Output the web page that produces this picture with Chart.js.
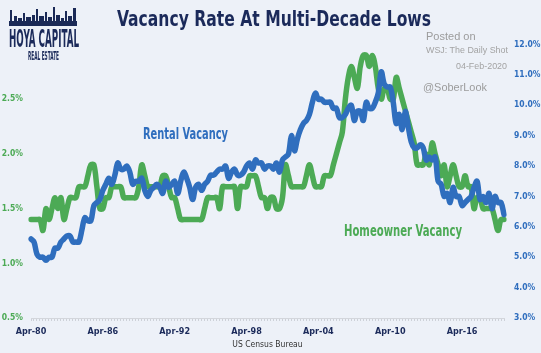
<!DOCTYPE html>
<html><head><meta charset="utf-8">
<script src="https://cdn.jsdelivr.net/npm/chart.js@4.4.1/dist/chart.umd.min.js"></script>
<style>
html,body{margin:0;padding:0;background:#edf1f8;}
#wrap{position:relative;width:541px;height:353px;overflow:hidden;background:#edf1f8;}
#c{position:absolute;left:0;top:0;}
.ov{position:absolute;white-space:nowrap;line-height:1;transform-origin:0 50%;}
</style></head><body>
<div id="wrap">
<canvas id="c" width="541" height="353"></canvas>
<svg style="position:absolute;left:9px;top:6px" width="68" height="20" viewBox="0 0 68 20">
  <g fill="#1b2a57">
    <rect x="0" y="15" width="68" height="5"/>
    <rect x="1" y="4" width="2" height="12"/>
    <rect x="5" y="10" width="3" height="6"/>
    <rect x="9" y="12" width="4" height="4"/>
    <rect x="14" y="7" width="2" height="9"/>
    <rect x="17" y="11" width="5" height="5"/>
    <rect x="23" y="9" width="3" height="7"/>
    <rect x="27" y="3" width="2" height="13"/>
    <rect x="30" y="10" width="5" height="6"/>
    <rect x="36" y="6" width="2" height="10"/>
    <rect x="39" y="11" width="4" height="5"/>
    <rect x="44" y="1" width="2" height="15"/>
    <rect x="47" y="9" width="4" height="7"/>
    <rect x="52" y="12" width="3" height="4"/>
    <rect x="56" y="5" width="2" height="11"/>
    <rect x="59" y="10" width="4" height="6"/>
    <rect x="64" y="2" width="3" height="14"/>
  </g>
</svg>
</div>
<script>
// ---- data ----
const xTickLabels = ['Apr-80','Apr-86','Apr-92','Apr-98','Apr-04','Apr-10','Apr-16'];
const rentalVacancy = [
 5.6,5.5,5.1,5.0,5.0,4.9,5.0,5.0,5.3,5.3,5.5,5.6,5.7,5.7,5.5,5.5,5.5,5.9,6.3,6.2,
 6.2,6.7,6.8,6.9,7.2,7.4,7.6,7.4,7.7,8.1,7.9,7.9,8.0,7.8,7.4,7.5,7.5,7.6,7.2,7.0,
 7.2,7.3,7.4,7.3,7.1,7.5,7.3,7.4,7.5,7.1,7.5,7.8,7.6,7.3,6.9,7.3,7.4,7.2,7.4,7.5,
 7.7,7.7,7.8,7.9,7.9,8.0,7.6,7.8,7.9,7.7,7.7,7.8,8.0,8.1,7.9,8.2,8.1,8.1,7.9,8.0,
 8.0,7.9,8.1,7.8,8.2,8.3,8.4,9.0,8.5,8.9,9.2,9.4,9.5,9.7,10.1,10.4,10.2,10.2,10.1,10.1,
 10.1,9.9,9.9,9.6,9.6,9.7,9.9,10.0,9.5,9.8,9.8,9.5,10.1,9.9,9.9,10.1,10.4,11.1,10.7,10.6,
 10.6,10.1,9.4,9.7,9.2,9.8,9.3,8.8,8.6,8.6,8.7,8.6,8.2,8.3,8.2,8.3,7.5,7.4,7.0,7.1,
 6.8,7.3,7.0,7.0,6.7,6.8,6.9,7.0,7.3,7.5,6.9,7.0,6.8,7.1,6.6,7.0,6.8,6.8,6.4
];
const homeownerVacancy = [
 1.4,1.4,1.4,1.4,1.3,1.5,1.4,1.5,1.6,1.5,1.6,1.4,1.5,1.6,1.6,1.6,1.7,1.7,1.7,1.8,
 1.9,1.9,1.7,1.5,1.5,1.6,1.6,1.7,1.7,1.7,1.7,1.6,1.6,1.6,1.6,1.6,1.7,1.9,1.8,1.7,
 1.7,1.7,1.7,1.7,1.8,1.8,1.7,1.6,1.6,1.5,1.4,1.4,1.4,1.4,1.4,1.4,1.4,1.4,1.5,1.6,
 1.6,1.6,1.6,1.5,1.7,1.7,1.7,1.7,1.7,1.5,1.7,1.7,1.7,1.8,1.8,1.8,1.7,1.6,1.6,1.5,
 1.6,1.6,1.5,1.5,1.6,1.9,1.8,1.7,1.7,1.7,1.7,1.7,1.8,1.9,1.8,1.7,1.7,1.7,1.8,1.8,
 1.8,1.9,2.0,2.1,2.2,2.5,2.7,2.8,2.7,2.6,2.8,2.9,2.9,2.8,2.9,2.8,2.6,2.5,2.6,2.6,
 2.5,2.5,2.7,2.6,2.5,2.4,2.3,2.2,2.1,1.9,1.9,1.9,2.0,1.9,2.1,2.0,1.9,1.8,1.9,1.7,
 1.8,1.9,1.8,1.7,1.7,1.8,1.7,1.7,1.5,1.6,1.6,1.5,1.5,1.5,1.5,1.4,1.3,1.4,1.4
];
const leftTicks = [0.5,1.0,1.5,2.0,2.5];
// quarterly categories starting Apr-1980
const months = ['Jan','Apr','Jul','Oct'];
const quarterLabels = rentalVacancy.map((_, i) => {
  const q = i + 1;
  const yr = 1980 + Math.floor(q / 4);
  return months[q % 4] + '-' + String(yr % 100).padStart(2, '0');
});

const BLUE = '#2f6ebe', GREEN = '#4caa55', NAVY = '#1b2a5a';
const NARROW = "'DejaVu Sans Condensed','Liberation Sans',Arial,sans-serif";
const SANS = "'Liberation Sans',Arial,sans-serif";

new Chart(document.getElementById('c'), {
  type: 'line',
  data: {
    labels: quarterLabels,
    datasets: [
      {label: 'Rental Vacancy', data: rentalVacancy, yAxisID: 'yRight', borderColor: BLUE,
       borderWidth: 5.5, pointRadius: 0, tension: 0.35, fill: false, borderCapStyle: 'round', borderJoinStyle: 'round'},
      {label: 'Homeowner Vacancy', data: homeownerVacancy, yAxisID: 'yLeft', borderColor: GREEN,
       borderWidth: 5.5, pointRadius: 0, tension: 0.35, fill: false, borderCapStyle: 'round', borderJoinStyle: 'round'}
    ]
  },
  options: {
    responsive: false, animation: false, devicePixelRatio: 1,
    layout: {padding: {left: 0, right: 0, top: 44.5, bottom: 3}},
    plugins: {legend: {display: false}, tooltip: {enabled: false}, title: {display: false}},
    scales: {
      x: {
        type: 'category',
        grid: {display: true, drawOnChartArea: false, drawTicks: true, tickLength: 3, color: '#cdd1d8', lineWidth: 1},
        border: {display: true, color: '#d3d6dc', width: 1},
        ticks: {autoSkip: false, maxRotation: 0, minRotation: 0, padding: 5, color: NAVY,
          font: {family: NARROW, size: 9, weight: 'bold'},
          callback: function(v) { const l = this.getLabelForValue(v); return xTickLabels.includes(l) ? l : ''; }},
        title: {display: true, text: 'US Census Bureau', color: '#333333',
          font: {family: NARROW, size: 8.5}, padding: {top: 0, bottom: 0}},
        afterFit: s => { s.height = 32; }
      },
      yLeft: {
        position: 'left', min: 0.5, max: 3.0,
        grid: {display: false, drawTicks: false}, border: {display: false},
        afterBuildTicks: s => { s.ticks = leftTicks.concat([3.0]).map(v => ({value: v})); },
        ticks: {padding: 8, color: GREEN, font: {family: NARROW, size: 8.5, weight: 'bold'},
          callback: v => leftTicks.includes(v) ? v.toFixed(1) + '%' : ''},
        afterFit: s => { s.width = 31; }
      },
      yRight: {
        position: 'right', min: 3, max: 12,
        grid: {display: false, drawTicks: false}, border: {display: false},
        ticks: {stepSize: 1, padding: 10, color: BLUE, font: {family: NARROW, size: 8.5, weight: 'bold'},
          callback: v => v.toFixed(1) + '%'},
        afterFit: s => { s.width = 37; }
      }
    }
  }
});

// ---- text overlays ----
const wrap = document.getElementById('wrap');
function place(text, opt) {
  const d = document.createElement('div');
  d.className = 'ov';
  d.textContent = text;
  d.style.fontFamily = opt.family || SANS;
  d.style.fontSize = opt.size + 'px';
  d.style.fontWeight = opt.weight || 'normal';
  d.style.color = opt.color;
  wrap.appendChild(d);
  const w = d.getBoundingClientRect().width;
  const s = opt.width ? opt.width / w : 1;
  const fw = w * s;
  let left = opt.left;
  if (opt.cx !== undefined) left = opt.cx - fw / 2;
  if (opt.right !== undefined) left = opt.right - fw;
  d.style.left = left + 'px';
  d.style.top = (opt.cy - opt.size / 2) + 'px';
  d.style.transform = 'scaleX(' + s + ')';
}
place('Vacancy Rate At Multi-Decade Lows', {cx: 274, cy: 19.5, size: 21, weight: 'bold', color: NAVY, family: NARROW, width: 314});
place('HOYA CAPITAL', {left: 9, cy: 38.5, size: 24, weight: 'bold', color: NAVY, family: NARROW, width: 70});
place('REAL ESTATE', {cx: 43, cy: 55, size: 13, weight: 'bold', color: NAVY, family: NARROW, width: 31});
place('Posted on', {left: 426, cy: 36, size: 11, color: '#9c9c9c'});
place('WSJ: The Daily Shot', {left: 426, cy: 50.5, size: 9, color: '#a3a3a3', width: 82});
place('04-Feb-2020', {right: 507, cy: 66, size: 9, color: '#a3a3a3', width: 51});
place('@SoberLook', {left: 423, cy: 87, size: 11, color: '#9c9c9c', width: 64});
place('Rental Vacancy', {cx: 185, cy: 134.5, size: 15, weight: 'bold', color: BLUE, family: NARROW, width: 85});
place('Homeowner Vacancy', {cx: 403, cy: 231.5, size: 15, weight: 'bold', color: GREEN, family: NARROW, width: 118});
</script>
</body></html>
